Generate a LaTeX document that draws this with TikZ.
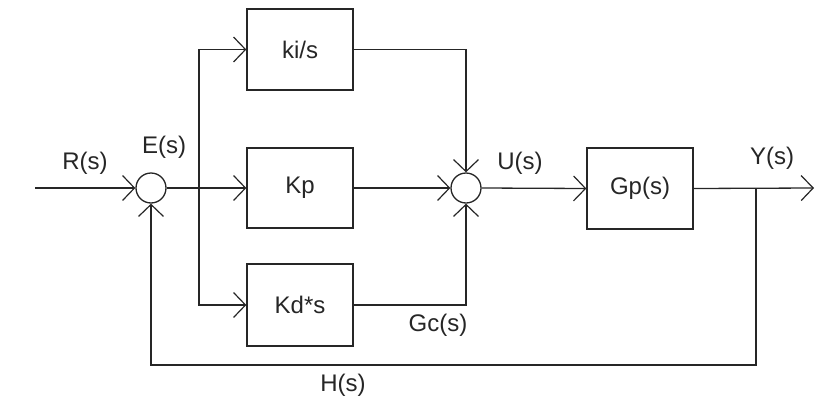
\documentclass[tikz,border=0pt]{standalone}
\usepackage{fontspec}
\setmainfont{Liberation Sans}
\usetikzlibrary{arrows.meta}
\definecolor{ink}{gray}{0.15}
\begin{document}
\begin{tikzpicture}[x=1pt,y=-1pt,
  line width=1.3pt, draw=ink, text=ink,
  every node/.style={font=\fontsize{24}{28}\selectfont, text=ink},
  block/.style={draw=ink, line width=1.3pt, minimum width=106pt, inner sep=0pt},
  sumnode/.style={draw=ink, circle, line width=1.3pt, minimum size=30pt, inner sep=0pt},
  arr/.style={-{Straight Barb[length=12pt,width=25pt,line width=1.2pt]}},
  lbl/.style={inner sep=0pt}]
\useasboundingbox (0,0) rectangle (820,402);
\node[block, minimum height=81pt] (ki) at (300,49.5) {ki/s};
\node[block, minimum height=80pt] (kp) at (300,188) {Kp};
\node[block, minimum height=82pt] (kd) at (300,305) {Kd*s};
\node[block, minimum height=81pt] (gp) at (640,188.5) {Gp(s)};
\node[sumnode] (E) at (151,188) {};
\node[sumnode] (U) at (466,188) {};
\coordinate (in) at (35,188);
\coordinate (br) at (199,188);
\coordinate (tap) at (756,188);
\coordinate (out) at (814,188);
\coordinate (fb) at (756,365);
\draw[arr] (in) -- (E.west);
\draw (E.east) -- (br);
\draw[arr] (br) -- (kp.west);
\draw[arr] (br) |- (ki.west);
\draw[arr] (br) |- (kd.west);
\draw[arr] (ki.east) -| (U.north);
\draw[arr] (kp.east) -- (U.west);
\draw[arr] (kd.east) -| (U.south);
\draw[arr] (U.east) -- (gp.west);
\draw[arr] (gp.east) -- (out);
\draw[arr] (tap) -- (fb) -| (E.south);
\node[lbl] (rl) at (85,163) {R(s)};
\node[lbl] (el) at (164,147) {E(s)};
\node[lbl] (ul) at (520,163) {U(s)};
\node[lbl] (yl) at (772,158) {Y(s)};
\node[lbl] (gl) at (438,325) {Gc(s)};
\node[lbl] (hl) at (343,385) {H(s)};
\end{tikzpicture}
\end{document}
